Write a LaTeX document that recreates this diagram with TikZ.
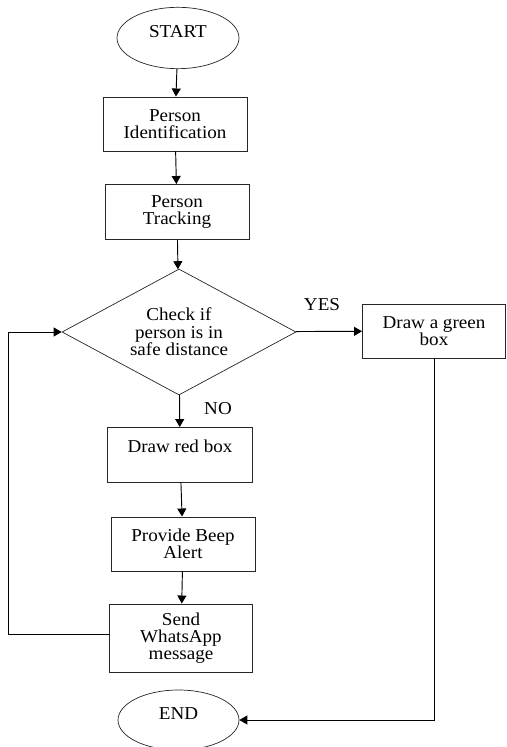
\documentclass[tikz,border=0pt]{standalone}
\usepackage{fontspec}
\setmainfont{Liberation Serif}[FakeStretch=1.05]
\usepackage{tikz}
\usetikzlibrary{arrows.meta,shapes.geometric}
\newcommand{\flowfont}{\fontsize{15.5}{14.8}\selectfont}
\tikzset{
  box/.style={draw=black!85, rectangle, line width=0.8pt, align=center, font=\flowfont, inner sep=2pt, minimum width=4.32cm, minimum height=1.62cm},
  term/.style={draw=black!85, ellipse, line width=0.6pt, font=\flowfont, inner sep=0pt, minimum width=3.66cm, minimum height=1.84cm, text height=0.3cm, text depth=0.33cm},
  dec/.style={draw=black!85, diamond, shape aspect=1.86, line width=0.6pt, align=center, font=\flowfont, inner sep=0pt, minimum width=7.02cm, minimum height=3.78cm},
  arr/.style={-{Triangle[length=2.4mm, width=2.7mm]}, line width=0.8pt},
  lbl/.style={font=\flowfont, inner sep=1pt}
}
\begin{document}
\begin{tikzpicture}
\useasboundingbox (0,0) rectangle (15.18,-22.41);
\node[term] (start) at (5.34,-1.14) {START};
\node[box] (ident) at (5.25,-3.72) {Person\\Identification};
\node[box, minimum height=1.65cm] (track) at (5.31,-6.36) {Person\\Tracking};
\node[dec] (check) at (5.37,-9.96) {Check if\\person is in\\safe distance};
\node[box, minimum width=4.29cm] (green) at (13.02,-9.93) {Draw a green\\box};
\node[box, minimum width=4.35cm, minimum height=1.65cm] (red) at (5.40,-13.65) {Draw red box\\~};
\node[box] (beep) at (5.49,-16.32) {Provide Beep\\Alert};
\node[box, minimum width=4.29cm, minimum height=2.04cm] (whats) at (5.43,-19.14) {Send\\WhatsApp\\message};
\node[term, minimum width=3.63cm, minimum height=1.8cm] (end) at (5.355,-21.6) {END};
\node[lbl] (yes) at (9.66,-9.15) {YES};
\node[lbl] (no) at (6.54,-12.27) {NO};
\coordinate (back) at (0.24,-19.02);
\draw[arr] (start) -- (ident);
\draw[arr] (ident) -- (track);
\draw[arr] (track) -- (check);
\draw[arr] (check) -- (green);
\draw[arr] (check) -- (red);
\draw[arr] (red) -- (beep);
\draw[arr] (beep) -- (whats);
\draw[arr] (whats.west |- back) -- (back) |- (check);
\draw[arr] (green) |- (end);
\end{tikzpicture}
\end{document}
